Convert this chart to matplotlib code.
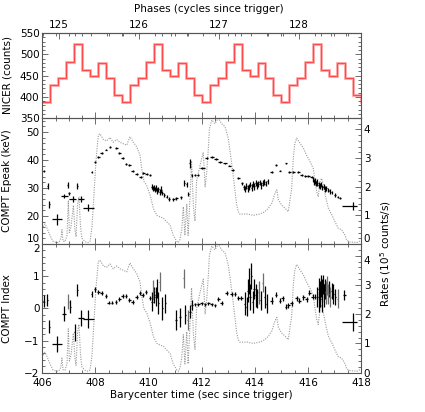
import numpy as np
import matplotlib
matplotlib.use("Agg")
import matplotlib.pyplot as plt
from matplotlib.ticker import MultipleLocator, FixedLocator

# ---------------- data ----------------
# NICER folded profile (10 bins per cycle, counts)
nicer_profile = [387, 427, 443, 481, 525, 463, 449, 479, 443, 404]
nicer_t0 = 405.99          # start of first bin (s)
period = 3.005             # pulse period (s)
phase_ref_t = 406.635      # time of phase 125
phase_ref = 125
phase_ticks = [125, 126, 127, 128]

# Rates light curve (1e5 counts/s)
rate_t = [406.03, 406.10, 406.18, 406.29, 406.40, 406.52, 406.63, 406.70, 406.74, 406.78,
          406.85, 406.93, 406.98, 407.02, 407.08, 407.17, 407.23, 407.27, 407.33, 407.38,
          407.44, 407.49, 407.61, 407.72, 407.80, 407.87, 407.95, 408.02, 408.11, 408.17,
          408.30, 408.42, 408.55, 408.67, 408.80, 408.93, 409.05, 409.18, 409.30, 409.43,
          409.55, 409.68, 409.74, 409.83, 409.93, 410.06, 410.18, 410.31, 410.43, 410.56,
          410.68, 410.81, 410.93, 411.06, 411.12, 411.18, 411.25, 411.31, 411.37, 411.44,
          411.49, 411.56, 411.62, 411.69, 411.75, 411.81, 411.94, 412.06, 412.13, 412.19,
          412.25, 412.29, 412.38, 412.50, 412.63, 412.75, 412.88, 413.00, 413.09, 413.17,
          413.26, 413.32, 413.38, 413.44, 413.70, 413.94, 414.20, 414.38, 414.51, 414.64,
          414.76, 414.83, 414.89, 415.01, 415.14, 415.26, 415.39, 415.45, 415.51, 415.58,
          415.70, 415.83, 415.95, 416.08, 416.20, 416.27, 416.33, 416.39, 416.46, 416.52,
          416.58, 416.68, 416.77, 416.90, 417.02, 417.14, 417.27, 417.40, 417.46, 417.59,
          417.84, 417.96]
rate_v = [0.60, 0.70, 0.55, 0.30, 0.10, 0.05, 0.06, 0.20, 0.50, 0.10,
          0.08, 0.30, 1.50, 0.40, 0.60, 1.35, 0.50, 0.25, 1.40, 1.65,
          0.60, 0.20, 0.08, 0.05, 0.10, 0.60, 1.80, 2.90, 3.80, 3.85,
          3.65, 3.60, 3.72, 3.55, 3.65, 3.55, 3.50, 3.45, 3.75, 3.55,
          3.40, 3.10, 2.65, 2.18, 2.05, 1.70, 1.25, 1.00, 0.95, 0.90,
          0.78, 0.66, 0.30, 0.10, 0.05, 0.15, 0.50, 1.30, 0.30, 1.40,
          0.30, 1.60, 2.90, 1.30, 0.80, 2.20, 2.75, 3.20, 2.00, 2.50,
          3.30, 4.00, 4.33, 4.20, 4.40, 4.20, 4.10, 3.70, 3.10, 2.53,
          1.83, 1.36, 1.13, 1.04, 1.05, 1.00, 1.05, 1.13, 1.25, 1.42,
          1.77, 1.89, 1.55, 1.36, 1.25, 1.13, 1.94, 3.00, 3.52, 3.70,
          3.52, 3.35, 3.10, 2.88, 2.64, 2.18, 1.83, 1.65, 2.20, 2.29,
          2.06, 1.60, 1.25, 1.02, 0.78, 0.55, 0.50, 0.31, 0.13, 0.07,
          0.05, 0.10]

# COMPT Epeak (keV)
ep_t = [406.05, 406.20, 406.26, 406.54, 406.83, 406.96, 407.00, 407.14, 407.32, 407.46,
        407.73, 407.86, 407.98, 408.11, 408.24, 408.40, 408.55, 408.78, 408.90, 409.03,
        409.15, 409.28, 409.40, 409.55, 409.70, 409.80, 409.93, 410.05,
        410.12, 410.16, 410.20, 410.24, 410.28, 410.33, 410.37, 410.42, 410.47, 410.52,
        410.60, 410.68, 410.77, 410.93, 411.05, 411.22, 411.35, 411.43, 411.50, 411.56,
        411.62, 411.75, 411.85, 412.03, 412.19, 412.38, 412.54, 412.69, 412.88, 413.04,
        413.17, 413.38, 413.51,
        413.58, 413.63, 413.68, 413.73, 413.78, 413.83, 413.88, 413.93, 413.98, 414.03,
        414.08, 414.13, 414.18, 414.24, 414.30, 414.36, 414.42, 414.48,
        414.64, 414.80, 414.95, 415.17, 415.30, 415.45, 415.64, 415.77, 415.90, 416.02,
        416.14,
        416.20, 416.24, 416.28, 416.32, 416.36, 416.40, 416.44, 416.49, 416.54, 416.59,
        416.64, 416.70, 416.76, 416.83, 416.90, 417.03, 417.12, 417.20, 417.70]
ep_v = [36.2, 30.7, 24.2, 18.8, 27.1, 31.1, 28.1, 26.0, 30.7, 26.0,
        23.0, 35.8, 39.4, 41.0, 42.4, 43.7, 44.6, 44.2, 42.4, 40.8,
        38.6, 38.1, 36.1, 34.9, 34.0, 35.3, 34.9, 34.6,
        30.5, 29.8, 30.2, 29.3, 30.0, 29.0, 29.6, 28.6, 29.4, 28.3,
        27.5, 26.9, 26.1, 26.0, 26.3, 26.7, 31.7, 31.3, 27.8, 38.8,
        34.6, 34.6, 34.6, 37.2, 40.8, 41.1, 40.4, 39.4, 38.8, 38.0,
        36.4, 33.5, 31.7,
        30.2, 29.6, 30.8, 29.9, 30.5, 31.2, 30.1, 31.5, 30.6, 31.8,
        30.9, 31.3, 32.0, 31.0, 31.7, 32.2, 31.6, 32.4,
        35.8, 38.2, 36.2, 38.8, 35.6, 35.8, 35.6, 34.6, 34.4, 34.2,
        34.0,
        33.0, 32.2, 32.6, 31.6, 31.9, 31.0, 30.6, 31.2, 30.2, 30.5,
        29.7, 29.9, 29.2, 28.8, 28.4, 27.5, 26.8, 26.4, 23.6]
ep_terr_lo = [0.02, 0.02, 0.02, 0.19, 0.12, 0.02, 0.03, 0.12, 0.02, 0.12,
              0.20, 0.03, 0.04, 0.05, 0.05, 0.05, 0.05, 0.06, 0.05, 0.05,
              0.05, 0.05, 0.05, 0.06, 0.06, 0.05, 0.05, 0.05,
              0.02, 0.02, 0.02, 0.02, 0.02, 0.02, 0.02, 0.02, 0.02, 0.02,
              0.03, 0.03, 0.03, 0.05, 0.05, 0.05, 0.02, 0.02, 0.03, 0.02,
              0.03, 0.04, 0.04, 0.08, 0.06, 0.07, 0.06, 0.06, 0.06, 0.06,
              0.05, 0.05, 0.04,
              0.02, 0.02, 0.02, 0.02, 0.02, 0.02, 0.02, 0.02, 0.02, 0.02,
              0.02, 0.02, 0.02, 0.02, 0.02, 0.02, 0.02, 0.02,
              0.05, 0.05, 0.05, 0.05, 0.05, 0.05, 0.05, 0.05, 0.05, 0.05,
              0.05,
              0.02, 0.02, 0.02, 0.02, 0.02, 0.02, 0.02, 0.02, 0.02, 0.02,
              0.02, 0.02, 0.02, 0.02, 0.02, 0.03, 0.03, 0.03, 0.40]
ep_terr_hi = ep_terr_lo[:-1] + [0.14]
ep_verr = [0.4, 1.0, 1.2, 2.0, 0.8, 1.2, 0.5, 1.0, 1.2, 1.0,
           1.3, 0.4, 0.4, 0.3, 0.3, 0.3, 0.3, 0.3, 0.3, 0.3,
           0.3, 0.3, 0.3, 0.3, 0.3, 0.3, 0.3, 0.3,
           0.8, 0.9, 1.0, 0.9, 1.1, 1.0, 0.9, 1.0, 1.2, 0.8,
           0.6, 0.6, 0.6, 0.6, 0.6, 0.6, 1.0, 1.0, 0.8, 1.5,
           0.5, 0.3, 0.3, 0.3, 0.3, 0.3, 0.3, 0.3, 0.3, 0.3,
           0.3, 0.4, 0.6,
           1.0, 1.1, 1.0, 1.2, 1.1, 1.0, 1.3, 1.1, 1.2, 1.0,
           1.2, 1.1, 1.0, 1.2, 1.1, 1.0, 1.0, 0.9,
           0.3, 0.3, 0.3, 0.3, 0.3, 0.3, 0.3, 0.3, 0.3, 0.3,
           0.4,
           0.9, 1.0, 1.1, 1.0, 1.2, 1.0, 1.1, 1.0, 1.0, 0.9,
           1.0, 0.9, 0.8, 0.8, 0.7, 0.6, 0.5, 0.5, 1.4]

# COMPT Index
ix_t = [406.06, 406.19, 406.26, 406.54, 406.82, 406.98, 407.05, 407.23, 407.32, 407.46,
        407.73, 407.86, 407.98, 408.11, 408.24, 408.40, 408.50, 408.62, 408.78, 408.90,
        409.03, 409.15, 409.28, 409.40, 409.55, 409.68, 409.78, 409.90, 410.05,
        410.13, 410.18, 410.22, 410.27, 410.30, 410.36, 410.42, 410.52, 410.63,
        411.03, 411.18, 411.33, 411.39, 411.47, 411.56, 411.64, 411.75, 411.88, 412.00,
        412.13, 412.25, 412.38, 412.50, 412.63, 412.75, 412.94, 413.13, 413.25, 413.38,
        413.50,
        413.63, 413.70, 413.74, 413.78, 413.82, 413.87, 413.92, 413.97, 414.03, 414.08,
        414.15, 414.22, 414.30, 414.38, 414.45,
        414.64, 414.80, 414.95, 415.05, 415.17, 415.26, 415.39, 415.58, 415.68, 415.83,
        415.95, 416.05, 416.18, 416.27,
        416.36, 416.40, 416.43, 416.46, 416.49, 416.52, 416.55, 416.58, 416.61, 416.64,
        416.68, 416.72, 416.76, 416.80, 416.85, 416.90, 416.96, 417.03, 417.12, 417.37,
        417.70]
ix_v = [0.23, 0.26, -0.57, -1.11, -0.17, 0.21, 0.05, -0.75, 0.57, -0.29,
        -0.34, 0.45, 0.59, 0.52, 0.49, 0.39, 0.18, 0.18, 0.21, 0.28,
        0.39, 0.39, 0.26, 0.21, 0.36, 0.47, 0.42, 0.50, 0.31,
        0.21, 0.57, 0.42, 0.36, 0.62, 0.16, 0.83, 0.00, 0.16,
        -0.36, -0.28, 0.93, -0.20, -0.36, -0.10, 0.10, 0.13, 0.13, 0.16,
        0.13, 0.16, 0.13, 0.10, 0.28, 0.16, 0.49, 0.45, 0.45, 0.31,
        0.31,
        0.15, 0.05, 0.55, 0.85, 0.35, 1.00, 0.20, 0.60, 0.40, 0.30,
        0.50, 0.25, 0.80, 0.35, 0.15,
        0.24, 0.42, 0.24, 0.31, 0.05, 0.10, 0.16, 0.31, 0.24, 0.34,
        0.28, 0.49, 0.36, 0.36,
        0.35, 0.60, 0.20, 0.45, 0.70, 0.30, 0.55, 0.75, 0.40, 0.60,
        0.50, 0.70, 0.45, 0.60, 0.35, 0.55, 0.45, 0.35, 0.30, 0.42,
        -0.43]
ix_terr_lo = [0.02, 0.02, 0.02, 0.19, 0.09, 0.02, 0.02, 0.02, 0.02, 0.12,
              0.20, 0.03, 0.04, 0.05, 0.05, 0.05, 0.05, 0.05, 0.05, 0.05,
              0.05, 0.05, 0.05, 0.05, 0.05, 0.05, 0.05, 0.05, 0.05,
              0.02, 0.02, 0.02, 0.02, 0.02, 0.02, 0.02, 0.02, 0.02,
              0.05, 0.04, 0.02, 0.02, 0.02, 0.03, 0.03, 0.05, 0.05, 0.05,
              0.05, 0.05, 0.05, 0.05, 0.05, 0.05, 0.05, 0.05, 0.05, 0.05,
              0.05,
              0.02, 0.02, 0.02, 0.02, 0.02, 0.02, 0.02, 0.02, 0.02, 0.02,
              0.02, 0.02, 0.02, 0.02, 0.02,
              0.05, 0.05, 0.05, 0.05, 0.05, 0.05, 0.05, 0.05, 0.05, 0.05,
              0.05, 0.05, 0.05, 0.05,
              0.02, 0.02, 0.02, 0.02, 0.02, 0.02, 0.02, 0.02, 0.02, 0.02,
              0.02, 0.02, 0.02, 0.02, 0.02, 0.02, 0.02, 0.02, 0.02, 0.05,
              0.40]
ix_terr_hi = ix_terr_lo[:-1] + [0.14]
ix_verr = [0.20, 0.20, 0.20, 0.24, 0.23, 0.23, 0.20, 0.25, 0.20, 0.25,
           0.28, 0.10, 0.07, 0.06, 0.06, 0.06, 0.06, 0.06, 0.06, 0.06,
           0.06, 0.06, 0.06, 0.06, 0.06, 0.06, 0.06, 0.06, 0.06,
           0.30, 0.30, 0.25, 0.30, 0.30, 0.35, 0.30, 0.35, 0.30,
           0.30, 0.30, 0.30, 0.30, 0.30, 0.20, 0.15, 0.05, 0.05, 0.05,
           0.05, 0.05, 0.05, 0.05, 0.06, 0.06, 0.06, 0.06, 0.06, 0.06,
           0.06,
           0.35, 0.30, 0.35, 0.40, 0.40, 0.40, 0.35, 0.30, 0.35, 0.30,
           0.35, 0.30, 0.30, 0.35, 0.30,
           0.10, 0.08, 0.08, 0.08, 0.08, 0.08, 0.08, 0.08, 0.08, 0.08,
           0.08, 0.08, 0.08, 0.08,
           0.30, 0.35, 0.30, 0.40, 0.35, 0.40, 0.35, 0.30, 0.35, 0.30,
           0.35, 0.30, 0.30, 0.25, 0.30, 0.25, 0.30, 0.25, 0.30, 0.15,
           0.27]
ix_gray = [406.98, 410.18, 410.42, 411.33, 411.47, 414.15, 414.30,
           416.68, 416.72, 416.76, 416.85, 417.12]

xlim = (406, 418)
nicer_ticks = [350, 400, 450, 500, 550]
ep_ticks = [10, 20, 30, 40, 50]
ix_ticks = [-2, -1, 0, 1, 2]
rate_ticks = [0, 1, 2, 3, 4]

# ---------------- figure ----------------
plt.rcParams['font.family'] = ['DejaVu Sans']
plt.rcParams['font.size'] = 7.5
fig = plt.figure(figsize=(4.25, 4.12), dpi=100)

L, W = 42.3 / 425, (361 - 42.3) / 425
def fy(top, bot):
    return [L, 1 - bot / 412, W, (bot - top) / 412]

ax1 = fig.add_axes(fy(33, 118))
ax2 = fig.add_axes(fy(118, 244))
ax3 = fig.add_axes(fy(244, 372.7))

spine_c = '#555555'
def style(ax, right=True):
    for s in ax.spines.values():
        s.set_color(spine_c)
        s.set_linewidth(0.8)
    ax.tick_params(which='both', direction='in', top=True, right=right,
                   color=spine_c, width=0.6, labelsize=7.5)
    ax.tick_params(which='major', length=4)
    ax.tick_params(which='minor', length=2)
    ax.set_xlim(*xlim)
    ax.xaxis.set_major_locator(MultipleLocator(2))
    ax.xaxis.set_minor_locator(MultipleLocator(0.5))

# --- top panel: NICER ---
nbins = int(np.ceil((xlim[1] - nicer_t0) / (period / 10))) + 1
edges = nicer_t0 + np.arange(nbins + 1) * period / 10
vals = np.array([nicer_profile[i % 10] for i in range(nbins)])
ax1.stairs(vals, edges, color='#ffb8b8', linewidth=2.2, baseline=None)
ax1.stairs(vals, edges, color='#ff4a4a', linewidth=0.9, baseline=None)
style(ax1)
ax1.set_ylim(350, 550)
ax1.yaxis.set_major_locator(FixedLocator(nicer_ticks))
ax1.yaxis.set_minor_locator(MultipleLocator(10))
ax1.tick_params(axis='x', labelbottom=False, top=False)
ax1.tick_params(axis='y', pad=2)
ax1.set_ylabel('NICER (counts)')
ax1.yaxis.set_label_coords(-0.095, 0.5)

def t2p(t):
    return phase_ref + (np.asarray(t) - phase_ref_t) / period
def p2t(p):
    return phase_ref_t + (np.asarray(p) - phase_ref) * period
sec = ax1.secondary_xaxis('top', functions=(t2p, p2t))
sec.xaxis.set_major_locator(FixedLocator(phase_ticks))
minor_ph = [p for p in np.arange(124.8, 128.81, 0.2) if 406 <= p2t(p) <= 418]
sec.xaxis.set_minor_locator(FixedLocator(minor_ph))
sec.tick_params(which='both', direction='in', color=spine_c, width=0.6, pad=2.5)
sec.tick_params(which='major', length=4)
sec.tick_params(which='minor', length=2)
sec.spines['top'].set_color(spine_c)
fig.text(209 / 425, 1 - 8.5 / 412, 'Phases (cycles since trigger)',
         ha='center', va='center', fontsize=7.5)

# --- rates twin axes ---
def rate_twin(ax):
    tw = ax.twinx()
    tw.plot(rate_t, rate_v, color='#9a9a9a', linestyle=(0, (1, 1.2)), linewidth=0.8)
    tw.set_ylim(0, 4.4)
    tw.yaxis.set_major_locator(FixedLocator(rate_ticks))
    tw.yaxis.set_minor_locator(MultipleLocator(0.2))
    tw.tick_params(which='both', direction='in', color=spine_c, width=0.6,
                   labelsize=7.5, pad=2)
    tw.tick_params(which='major', length=4)
    tw.tick_params(which='minor', length=2)
    for s in tw.spines.values():
        s.set_visible(False)
    ax.set_zorder(tw.get_zorder() + 1)
    ax.patch.set_visible(False)
    return tw

# --- middle panel: Epeak ---
style(ax2, right=False)
tw2 = rate_twin(ax2)
ax2.errorbar(ep_t, ep_v, xerr=[ep_terr_lo, ep_terr_hi], yerr=ep_verr, fmt='none',
             ecolor='black', elinewidth=0.9, capsize=0)
ax2.set_ylim(10, 55)
ax2.yaxis.set_major_locator(FixedLocator(ep_ticks))
ax2.yaxis.set_minor_locator(MultipleLocator(2))
ax2.tick_params(axis='x', labelbottom=False)
ax2.tick_params(axis='y', pad=2)
ax2.set_ylabel('COMPT Epeak (keV)')
ax2.yaxis.set_label_coords(-0.095, 0.5)

# --- bottom panel: Index ---
style(ax3, right=False)
tw3 = rate_twin(ax3)
ix_t_a = np.array(ix_t)
ix_v_a = np.array(ix_v)
gray_mask = np.isin(np.round(ix_t_a, 2), np.round(ix_gray, 2))
xe = np.array([ix_terr_lo, ix_terr_hi])
ye = np.array(ix_verr)
for mask, col in [(~gray_mask, 'black'), (gray_mask, '#6e6e6e')]:
    ax3.errorbar(ix_t_a[mask], ix_v_a[mask], xerr=xe[:, mask], yerr=ye[mask],
                 fmt='none', ecolor=col, elinewidth=0.9, capsize=0)
ax3.set_ylim(-2, 2)
ax3.yaxis.set_major_locator(FixedLocator(ix_ticks))
ax3.yaxis.set_minor_locator(MultipleLocator(0.2))
ax3.tick_params(axis='x', pad=4)
ax3.tick_params(axis='y', pad=2)
ax3.set_ylabel('COMPT Index')
ax3.yaxis.set_label_coords(-0.095, 0.5)
ax3.set_xlabel('Barycenter time (sec since trigger)', labelpad=1)

# keep the shared-edge labels apart (as in the original)
ax2.yaxis.get_major_ticks()[0].label1.set_va('bottom')
ax3.yaxis.get_major_ticks()[-1].label1.set_va('top')
tw2.yaxis.get_major_ticks()[0].label2.set_va('bottom')
tw3.yaxis.get_major_ticks()[-1].label2.set_va('top')

fig.text(386 / 425, 1 - 254 / 412, r'Rates (10$^5$ counts/s)', rotation=90,
         ha='center', va='center', fontsize=7.5)

fig.savefig('out.png', dpi=100)
